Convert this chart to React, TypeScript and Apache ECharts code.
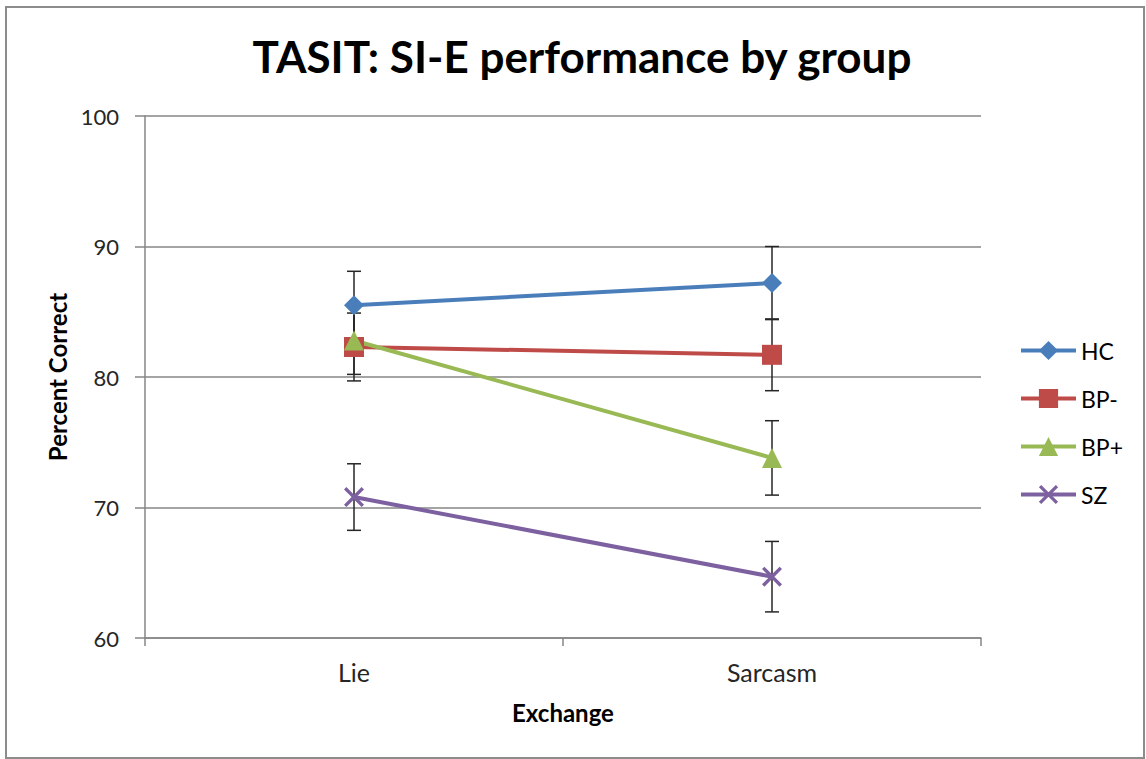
import React, { useEffect, useRef } from "react";
import * as echarts from "echarts";

const categories = ["Lie", "Sarcasm"];
const groupNames = ["HC", "BP-", "BP+", "SZ"];
const hcValues = [85.5, 87.2];
const bpMinusValues = [82.3, 81.7];
const bpPlusValues = [82.8, 73.8];
const szValues = [70.8, 64.7];
const hcErrors = [2.6, 2.8];
const bpMinusErrors = [2.6, 2.75];
const bpPlusErrors = [2.6, 2.85];
const szErrors = [2.55, 2.7];
const yTicks = [60, 70, 80, 90, 100];

const colors = ["#4A7EBB", "#BE4B48", "#98B954", "#7D60A0"];
const symbols = [
  "diamond",
  "rect",
  "triangle",
  "path://M0,1.2L1.2,0L5,3.8L8.8,0L10,1.2L6.2,5L10,8.8L8.8,10L5,6.2L1.2,10L0,8.8L3.8,5Z",
];
const symbolSizes = [20, 20, 20, 20];

const FONT = "Lato, 'Noto Sans', sans-serif";

export default function App() {
  const ref = useRef<HTMLDivElement>(null);
  useEffect(() => {
    document.body.style.margin = "0";
    if (!ref.current) return;
    const chart = echarts.init(ref.current, undefined, { renderer: "svg" });
    const values = [hcValues, bpMinusValues, bpPlusValues, szValues];
    const errors = [hcErrors, bpMinusErrors, bpPlusErrors, szErrors];

    const errorSeries = groupNames.map((name, gi) => ({
      type: "custom",
      name: name + " error",
      z: 1,
      silent: true,
      encode: { x: 0, y: [1, 2] },
      data: values[gi].map((v, i) => [i, v - errors[gi][i], v + errors[gi][i]]),
      renderItem: (params: any, api: any) => {
        const idx = api.value(0);
        const lo = api.coord([idx, api.value(1)]);
        const hi = api.coord([idx, api.value(2)]);
        const cap = 7;
        const style = { stroke: "#262626", lineWidth: 1.5 };
        return {
          type: "group",
          children: [
            { type: "line", shape: { x1: lo[0], y1: lo[1], x2: hi[0], y2: hi[1] }, style },
            { type: "line", shape: { x1: lo[0] - cap, y1: lo[1], x2: lo[0] + cap, y2: lo[1] }, style },
            { type: "line", shape: { x1: hi[0] - cap, y1: hi[1], x2: hi[0] + cap, y2: hi[1] }, style },
          ],
        };
      },
    }));

    const lineSeries = groupNames.map((name, gi) => ({
      type: "line",
      name,
      z: 3,
      data: values[gi],
      symbol: symbols[gi],
      symbolSize: symbolSizes[gi],
      showAllSymbol: true,
      lineStyle: { color: colors[gi], width: 4 },
      itemStyle: { color: colors[gi] },
    }));

    chart.setOption({
      animation: false,
      backgroundColor: "#ffffff",
      title: {
        text: "TASIT: SI-E performance by group",
        left: 577,
        textAlign: "center",
        top: 29,
        textStyle: { fontFamily: FONT, fontSize: 44, fontWeight: "bold", color: "#000" },
      },
      legend: {
        data: groupNames,
        orient: "vertical",
        left: 1014,
        top: 334,
        itemWidth: 55,
        itemHeight: 24,
        itemGap: 25,
        lineStyle: { width: 4 },
        textStyle: { fontFamily: FONT, fontSize: 23, color: "#000" },
      },
      grid: { left: 145, right: 165, top: 116, bottom: 121, containLabel: false },
      xAxis: {
        type: "category",
        data: categories,
        boundaryGap: true,
        name: "Exchange",
        nameLocation: "middle",
        nameGap: 62,
        nameTextStyle: { fontFamily: FONT, fontSize: 24, fontWeight: "bold", color: "#000" },
        axisLine: { lineStyle: { color: "#868686", width: 1.5 } },
        axisTick: { show: true, length: 8, lineStyle: { color: "#868686", width: 1.5 } },
        axisLabel: { margin: 21, fontFamily: FONT, fontSize: 25, color: "#262626" },
        splitLine: { show: false },
      },
      yAxis: {
        type: "value",
        min: yTicks[0],
        max: yTicks[yTicks.length - 1],
        interval: 10,
        name: "Percent Correct",
        nameLocation: "middle",
        nameRotate: 90,
        nameGap: 76,
        nameTextStyle: { fontFamily: FONT, fontSize: 24, fontWeight: "bold", color: "#000" },
        axisLine: { show: true, lineStyle: { color: "#868686", width: 1.5 } },
        axisTick: { show: true, length: 10, lineStyle: { color: "#868686", width: 1.5 } },
        axisLabel: { margin: 26, fontFamily: FONT, fontSize: 22, color: "#262626" },
        splitLine: { show: true, lineStyle: { color: "#868686", width: 1.5 } },
      },
      graphic: [
        {
          type: "rect",
          shape: { x: 6, y: 7, width: 1138, height: 751 },
          style: { fill: "none", stroke: "#8c8c8c", lineWidth: 2 },
          silent: true,
          z: 0,
        },
      ],
      series: [...errorSeries, ...lineSeries],
    });
    return () => chart.dispose();
  }, []);
  return <div ref={ref} style={{ width: 1146, height: 759 }} />;
}
